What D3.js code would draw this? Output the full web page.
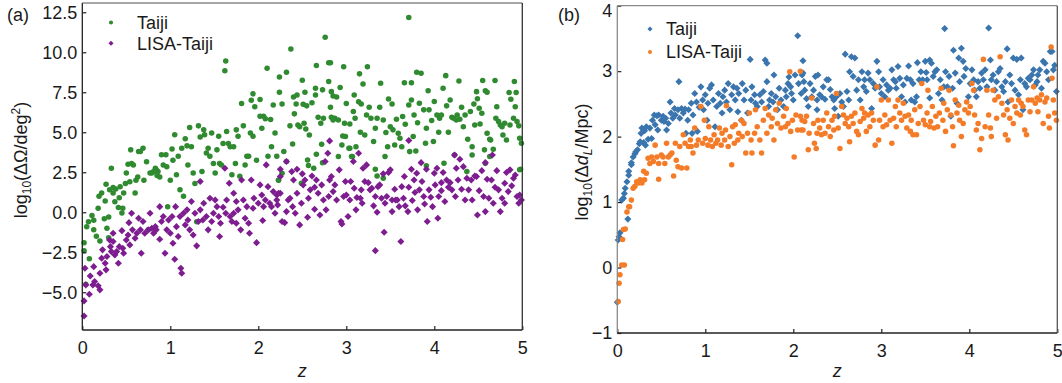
<!DOCTYPE html>
<html>
<head>
<meta charset="utf-8">
<script src="https://cdn.jsdelivr.net/npm/d3@7"></script>
<style>
html,body{margin:0;padding:0;background:#fff;}
svg{display:block;font-family:"Liberation Sans",Arial,sans-serif;}
</style>
</head>
<body>
<svg id="chart" width="1062" height="383"></svg>
<script>
// ---------- DATA ----------
const seriesNames = ["Taiji", "LISA-Taiji"];
const xTicks = [0, 1, 2, 3, 4, 5];
const yTicksA = [-5, -2.5, 0, 2.5, 5, 7.5, 10, 12.5];
const yTicksB = [-1, 0, 1, 2, 3, 4];

// panel (a): [z, log10(ΔΩ/deg²)]
const taijiOmega = [[0.02,-1.9],[0.02,-2.4],[0.04,-4.5],[0.08,-2.9],[0.05,-0.9],[0.07,-0.6],[0.11,-0.2],[0.13,-1.1],[0.13,-0.5],[0.18,0.25],[0.16,-1.5],[0.2,-1.8],[0.25,-0.4],[0.28,-1.0],[0.3,-0.3],[0.3,-1.6],[0.26,0.7],[0.19,1.0],[0.22,1.2],[0.27,1.75],[0.31,1.4],[0.33,2.75],[0.35,1.55],[0.38,1.45],[0.35,1.2],[0.37,0.65],[0.42,0.9],[0.41,0.3],[0.43,1.6],[0.45,-0.05],[0.46,0.25],[0.47,1.2],[0.49,1.8],[0.5,2.45],[0.52,3.0],[0.54,1.9],[0.56,3.05],[0.55,3.9],[0.58,2.95],[0.6,1.2],[0.61,2.0],[0.63,2.2],[0.64,3.8],[0.66,3.8],[0.69,4.0],[0.73,3.15],[0.7,2.0],[0.75,-1.1],[0.77,2.45],[0.79,2.45],[0.81,2.55],[0.83,2.75],[0.84,2.65],[0.86,2.55],[0.85,2.3],[0.88,2.2],[0.9,3.6],[0.92,2.95],[0.95,3.6],[0.96,2.85],[0.97,0.35],[1.0,2.0],[1.02,3.95],[1.03,3.25],[1.05,4.85],[1.07,2.35],[1.09,3.5],[1.11,1.4],[1.13,4.0],[1.15,1.0],[1.17,4.6],[1.19,4.15],[1.2,2.95],[1.22,5.3],[1.24,4.1],[1.26,2.45],[1.28,1.8],[1.3,-0.6],[1.32,5.4],[1.34,4.7],[1.36,2.55],[1.38,5.15],[1.39,4.85],[1.41,3.7],[1.43,4.0],[1.45,3.5],[1.47,4.95],[1.49,3.05],[1.51,2.45],[1.53,3.9],[1.55,4.75],[1.56,3.05],[1.58,2.95],[1.6,4.3],[1.64,5.05],[1.62,8.85],[1.63,9.45],[1.66,4.3],[1.68,4.1],[1.7,2.35],[1.72,4.1],[1.74,3.05],[1.75,5.15],[1.77,4.75],[1.79,2.25],[1.81,6.8],[1.83,5.4],[1.85,2.95],[1.87,3.5],[1.89,3.5],[1.91,4.95],[1.92,7.0],[1.94,7.4],[1.94,4.75],[1.96,6.6],[1.98,3.25],[2.02,7.05],[2.02,6.0],[2.04,5.25],[2.06,6.0],[2.08,5.85],[2.1,9.0],[2.11,3.5],[2.14,5.8],[2.15,4.1],[2.17,6.7],[2.19,4.95],[2.21,3.5],[2.23,2.0],[2.24,8.45],[2.24,7.5],[2.32,8.75],[2.37,10.2],[2.27,6.77],[2.4,7.2],[2.44,7.33],[2.5,8.25],[2.53,7.5],[2.41,6.15],[2.36,5.4],[2.43,6.77],[2.45,5.46],[2.47,5.35],[2.52,5.56],[2.54,5.2],[2.58,4.83],[2.51,6.75],[2.55,6.65],[2.61,6.85],[2.65,7.75],[2.66,9.17],[2.65,7.33],[2.68,5.94],[2.71,5.56],[2.73,7.65],[2.74,5.88],[2.76,10.94],[2.8,9.35],[2.82,9.35],[2.8,8.17],[2.83,7.54],[2.85,7.27],[2.87,5.88],[2.89,7.2],[2.93,7.8],[2.82,6.56],[2.83,5.94],[2.85,5.77],[2.91,5.77],[2.95,4.2],[2.97,9.1],[2.96,4.77],[2.98,5.56],[2.99,4.73],[3.0,6.8],[3.03,4.0],[3.04,5.52],[3.06,3.48],[3.08,6.3],[3.1,5.88],[3.09,7.33],[3.11,4.1],[3.14,6.9],[3.15,8.65],[3.16,5.0],[3.17,6.77],[3.19,8.02],[3.21,4.83],[3.23,6.08],[3.24,9.1],[3.26,6.56],[3.28,5.88],[3.31,4.42],[3.33,5.25],[3.35,5.88],[3.38,6.56],[3.39,8.06],[3.42,5.77],[3.44,3.48],[3.45,4.98],[3.47,4.1],[3.48,7.08],[3.5,5.35],[3.52,6.77],[3.53,5.15],[3.55,4.2],[3.57,5.81],[3.59,4.94],[3.61,4.63],[3.63,4.1],[3.64,5.98],[3.66,8.1],[3.67,5.5],[3.71,6.71],[3.71,12.17],[3.72,3.79],[3.74,8.1],[3.74,7.02],[3.76,4.73],[3.77,6.08],[3.79,3.83],[3.8,8.75],[3.81,5.6],[3.83,6.81],[3.85,8.69],[3.88,6.4],[3.9,4.31],[3.91,5.25],[3.93,7.6],[3.94,6.4],[3.97,5.73],[3.99,4.42],[4.0,6.92],[4.03,6.08],[4.05,5.0],[4.06,5.88],[4.08,6.08],[4.1,7.75],[4.11,3.06],[4.13,8.54],[4.14,6.65],[4.16,5.0],[4.18,7.02],[4.2,5.94],[4.22,5.88],[4.23,3.58],[4.25,5.77],[4.26,6.08],[4.28,8.2],[4.29,5.81],[4.31,6.56],[4.33,5.35],[4.35,6.08],[4.38,4.56],[4.41,6.3],[4.43,4.1],[4.45,6.77],[4.46,5.46],[4.48,7.54],[4.49,7.1],[4.51,6.5],[4.52,5.52],[4.54,6.19],[4.55,8.23],[4.57,3.9],[4.58,7.6],[4.6,7.5],[4.6,4.94],[4.63,4.56],[4.64,4.52],[4.67,3.94],[4.69,8.23],[4.7,5.88],[4.71,6.6],[4.73,5.67],[4.75,5.46],[4.77,5.35],[4.78,4.83],[4.8,5.56],[4.82,4.52],[4.85,7.48],[4.86,5.46],[4.87,7.06],[4.9,5.88],[4.91,8.17],[4.92,6.6],[4.93,7.48],[4.94,5.67],[4.96,5.4],[4.97,4.63],[4.98,2.69],[4.99,4.31],[2.29,3.8],[2.32,3.17],[2.39,4.27],[2.56,3.27],[2.57,2.92],[2.63,2.75],[2.66,3.63],[2.72,4.25],[2.73,3.1],[2.91,3.48],[3.04,4.0],[3.07,3.48],[3.33,2.69],[3.35,2.27],[3.42,2.13],[3.91,2.9],[4.37,2.54],[4.43,3.58],[4.58,3.06],[4.63,3.48],[2.27,2.44],[2.23,2.02],[2.49,1.81],[4.97,2.65]];

const lisaTaijiOmega = [[0.02,-6.48],[0.02,-5.54],[0.03,-3.5],[0.04,-4.54],[0.08,-5.13],[0.09,-3.98],[0.12,-4.54],[0.13,-3.4],[0.14,-4.33],[0.18,-4.6],[0.2,-4.85],[0.2,-3.81],[0.22,-2.88],[0.23,-2.35],[0.26,-3.19],[0.27,-3.6],[0.28,-2.77],[0.31,-1.73],[0.32,-2.15],[0.33,-2.46],[0.35,-1.31],[0.35,-1.83],[0.37,-2.67],[0.39,-2.46],[0.41,-3.19],[0.42,-2.15],[0.45,-1.15],[0.46,-2.25],[0.47,-2.56],[0.5,-1.73],[0.52,-1.42],[0.53,-0.65],[0.54,-2.04],[0.56,-0.06],[0.57,-1.1],[0.6,-1.63],[0.62,-1.31],[0.64,-0.38],[0.66,-1.1],[0.67,-2.56],[0.69,-0.58],[0.71,-1.31],[0.75,-1.1],[0.77,-0.06],[0.79,-1.0],[0.81,-1.31],[0.83,-0.9],[0.84,-1.1],[0.88,0.35],[0.88,-1.69],[0.9,-0.58],[0.92,-0.27],[0.94,-2.56],[0.96,-1.1],[0.98,-0.48],[1.0,-1.31],[1.02,-0.27],[1.03,-1.94],[1.05,-2.94],[1.06,0.35],[1.07,-0.9],[1.09,-1.52],[1.11,-0.27],[1.12,-3.5],[1.13,-3.81],[1.15,-0.06],[1.17,-0.79],[1.19,0.15],[1.2,-0.48],[1.22,-1.1],[1.24,0.67],[1.26,-1.42],[1.28,-0.06],[1.3,-2.1],[1.32,-0.58],[1.34,1.92],[1.34,0.15],[1.37,-0.48],[1.38,0.56],[1.41,-0.27],[1.43,-1.1],[1.45,0.88],[1.47,-0.58],[1.49,-0.06],[1.51,0.77],[1.53,0.35],[1.55,-0.27],[1.56,-1.52],[1.57,-0.69],[1.6,0.31],[1.62,2.75],[1.63,-0.06],[1.64,0.77],[1.67,1.81],[1.68,-0.27],[1.7,-0.58],[1.72,-0.06],[1.72,1.19],[1.75,0.67],[1.75,-0.69],[1.77,0.15],[1.8,-1.1],[1.81,2.02],[1.83,0.77],[1.85,-0.38],[1.87,0.35],[1.89,-0.69],[1.9,-1.31],[1.92,2.02],[1.94,0.25],[1.95,0.88],[1.98,-1.9],[2.0,0.56],[2.02,1.71],[2.04,1.08],[2.05,-0.52],[2.06,0.35],[2.08,0.77],[2.09,2.96],[2.11,1.6],[2.13,0.56],[2.15,0.35],[2.17,1.29],[2.19,-0.06],[2.21,0.77],[2.23,1.19],[2.22,0.46],[2.21,1.08],[2.25,1.19],[2.25,2.23],[2.25,2.69],[2.27,-0.58],[2.3,-0.65],[2.32,3.17],[2.32,0.04],[2.34,0.77],[2.36,0.87],[2.38,2.54],[2.39,0.35],[2.4,2.02],[2.42,-0.06],[2.44,2.69],[2.44,1.19],[2.47,-0.79],[2.49,0.56],[2.5,2.4],[2.51,1.71],[2.53,2.02],[2.56,-0.31],[2.57,0.87],[2.59,1.4],[2.61,2.27],[2.64,0.19],[2.64,1.56],[2.66,2.02],[2.68,1.19],[2.7,-0.17],[2.72,1.71],[2.74,0.77],[2.76,3.17],[2.77,0.15],[2.79,3.69],[2.8,0.98],[2.81,4.46],[2.81,2.02],[2.83,2.23],[2.85,1.29],[2.87,1.71],[2.89,0.77],[2.92,2.65],[2.94,-0.58],[2.95,-0.73],[2.97,0.98],[2.99,1.92],[3.0,1.08],[3.02,-0.27],[3.04,0.77],[3.05,1.92],[3.08,3.17],[3.09,1.5],[3.11,0.15],[3.12,0.92],[3.14,3.69],[3.16,0.87],[3.17,1.4],[3.18,0.56],[3.19,2.75],[3.21,1.92],[3.23,2.96],[3.25,1.85],[3.27,1.4],[3.29,1.5],[3.31,0.4],[3.33,-2.4],[3.33,0.98],[3.35,0.0],[3.36,1.6],[3.38,1.71],[3.4,0.87],[3.42,2.4],[3.43,-1.25],[3.44,0.56],[3.46,0.98],[3.48,2.48],[3.5,2.65],[3.52,0.77],[3.52,0.04],[3.55,1.44],[3.56,0.77],[3.58,0.77],[3.6,0.35],[3.62,-1.83],[3.63,1.6],[3.65,0.87],[3.66,2.23],[3.67,0.4],[3.7,0.04],[3.71,4.48],[3.71,1.56],[3.74,2.69],[3.75,0.73],[3.77,2.02],[3.78,1.23],[3.8,2.44],[3.81,0.15],[3.83,1.4],[3.85,3.1],[3.86,1.92],[3.88,0.98],[3.89,0.52],[3.91,2.69],[3.92,-0.58],[3.94,1.4],[3.96,0.94],[3.98,0.35],[4.0,2.44],[4.01,1.71],[4.03,2.75],[4.04,-0.38],[4.05,0.98],[4.08,1.85],[4.08,1.35],[4.1,2.48],[4.12,0.67],[4.14,2.02],[4.16,1.56],[4.18,1.85],[4.2,1.4],[4.23,3.58],[4.24,0.98],[4.25,2.75],[4.27,2.02],[4.29,3.31],[4.31,1.44],[4.33,2.85],[4.35,0.77],[4.37,2.12],[4.39,1.4],[4.42,2.02],[4.43,0.77],[4.46,2.27],[4.48,2.23],[4.49,-0.17],[4.51,1.35],[4.54,2.6],[4.56,0.98],[4.58,3.1],[4.58,0.04],[4.6,2.06],[4.62,0.87],[4.65,2.02],[4.66,3.58],[4.67,0.56],[4.69,1.56],[4.71,2.6],[4.73,1.4],[4.75,0.04],[4.77,0.87],[4.8,0.56],[4.8,1.81],[4.82,2.48],[4.84,1.29],[4.86,2.65],[4.88,1.65],[4.9,2.12],[4.92,2.33],[4.94,0.98],[4.96,0.56],[4.97,1.08],[4.99,0.77]];

// panel (b): [z, log10(Δd_L/Mpc)]
const taijiDL = [[0.0,-0.53],[0.01,0.42],[0.02,0.47],[0.03,0.53],[0.12,0.74],[0.05,1.03],[0.07,1.06],[0.08,1.13],[0.09,1.21],[0.11,1.31],[0.13,1.41],[0.13,1.47],[0.16,1.57],[0.16,1.6],[0.18,1.69],[0.2,1.74],[0.21,1.77],[0.23,1.8],[0.25,1.89],[0.26,1.92],[0.27,2.05],[0.28,2.13],[0.3,1.91],[0.31,2.09],[0.32,1.87],[0.33,2.15],[0.35,1.96],[0.37,2.13],[0.39,1.97],[0.4,2.25],[0.42,2.33],[0.43,2.18],[0.45,2.32],[0.46,2.1],[0.47,2.33],[0.5,2.25],[0.52,2.31],[0.53,2.23],[0.55,2.28],[0.56,2.1],[0.58,2.2],[0.6,2.53],[0.61,2.36],[0.63,2.28],[0.65,2.43],[0.66,2.33],[0.69,2.41],[0.7,2.84],[0.71,2.28],[0.73,2.43],[0.75,2.36],[0.77,2.42],[0.78,2.05],[0.8,2.25],[0.81,2.41],[0.84,2.51],[0.85,2.05],[0.86,2.33],[0.88,2.66],[0.9,2.53],[0.91,2.08],[0.93,2.45],[0.95,2.76],[0.97,2.56],[0.98,2.41],[1.0,2.64],[1.02,2.25],[1.03,2.51],[1.05,2.74],[1.07,2.79],[1.09,2.56],[1.11,2.15],[1.13,2.46],[1.15,2.66],[1.17,2.51],[1.19,2.36],[1.2,2.61],[1.22,2.71],[1.24,2.53],[1.26,2.81],[1.28,2.41],[1.3,2.64],[1.32,2.76],[1.34,2.56],[1.36,2.74],[1.37,2.38],[1.38,2.66],[1.41,2.25],[1.42,2.81],[1.44,2.56],[1.46,2.71],[1.48,2.36],[1.51,3.18],[1.52,2.56],[1.53,2.76],[1.56,2.64],[1.57,2.51],[1.59,2.46],[1.62,2.64],[1.64,2.53],[1.66,2.69],[1.68,3.17],[1.7,3.12],[1.7,2.84],[1.72,2.46],[1.73,2.56],[1.75,2.66],[1.77,2.53],[1.78,2.94],[1.8,2.61],[1.82,2.41],[1.84,2.74],[1.86,2.56],[1.89,2.46],[1.91,2.71],[1.92,2.61],[1.94,2.81],[1.95,2.91],[1.97,2.76],[1.98,2.66],[2.0,2.56],[2.02,2.94],[2.05,3.54],[2.06,2.81],[2.09,2.66],[2.11,3.16],[2.11,2.97],[2.1,2.94],[2.12,2.84],[2.13,2.71],[2.15,2.58],[2.17,2.46],[2.19,2.81],[2.21,2.61],[2.23,2.71],[2.25,2.92],[2.27,2.41],[2.27,2.56],[2.28,2.94],[2.3,2.64],[2.32,2.61],[2.34,2.76],[2.36,2.57],[2.38,2.87],[2.4,2.87],[2.42,2.72],[2.44,2.61],[2.46,2.56],[2.47,2.43],[2.49,2.61],[2.51,2.31],[2.53,2.66],[2.55,2.53],[2.57,2.46],[2.59,3.26],[2.61,2.69],[2.63,2.56],[2.64,2.99],[2.66,3.22],[2.68,2.92],[2.7,3.2],[2.72,2.71],[2.74,2.87],[2.76,2.56],[2.78,2.99],[2.8,2.76],[2.81,2.87],[2.83,2.69],[2.85,2.97],[2.87,2.87],[2.89,2.43],[2.91,2.81],[2.93,2.74],[2.95,3.15],[2.97,2.99],[2.98,2.76],[3.0,2.66],[3.02,2.87],[3.04,2.61],[3.06,2.79],[3.08,2.71],[3.1,2.74],[3.12,3.02],[3.14,2.87],[3.16,2.84],[3.17,2.74],[3.19,3.07],[3.21,2.89],[3.23,2.61],[3.25,2.79],[3.27,2.53],[3.29,2.89],[3.31,3.08],[3.33,2.87],[3.34,2.56],[3.36,2.81],[3.38,2.53],[3.4,2.61],[3.41,3.13],[3.43,2.87],[3.45,2.99],[3.47,2.87],[3.5,3.15],[3.51,2.98],[3.52,2.87],[3.55,2.59],[3.55,3.17],[3.57,3.12],[3.59,2.92],[3.61,2.99],[3.63,3.02],[3.65,2.66],[3.67,2.87],[3.69,2.56],[3.71,2.76],[3.72,3.65],[3.73,2.99],[3.75,2.76],[3.77,2.92],[3.79,2.31],[3.81,2.74],[3.82,3.32],[3.84,2.97],[3.86,2.51],[3.88,3.2],[3.89,2.84],[3.91,3.35],[3.93,3.15],[3.94,2.92],[3.96,3.04],[3.99,2.61],[4.01,2.81],[4.03,3.02],[4.05,2.87],[4.06,2.71],[4.08,2.61],[4.1,2.84],[4.12,2.74],[4.14,2.97],[4.16,2.87],[4.18,3.02],[4.2,2.76],[4.22,3.66],[4.24,3.17],[4.25,2.87],[4.27,2.94],[4.29,2.71],[4.31,2.84],[4.33,2.99],[4.35,3.04],[4.37,2.76],[4.39,2.69],[4.41,2.84],[4.43,3.34],[4.44,2.53],[4.46,2.94],[4.48,2.81],[4.5,3.2],[4.52,2.71],[4.54,3.18],[4.56,2.64],[4.58,2.87],[4.59,3.2],[4.61,2.41],[4.63,2.81],[4.65,2.76],[4.67,2.89],[4.69,2.87],[4.71,2.94],[4.73,3.02],[4.75,2.79],[4.77,2.84],[4.78,2.94],[4.8,3.02],[4.82,2.74],[4.84,3.15],[4.86,3.12],[4.88,2.99],[4.9,2.87],[4.92,3.3],[4.94,3.3],[4.955,3.02],[4.97,3.09],[4.99,2.69]];

const lisaTaijiDL = [[0.01,-0.52],[0.02,-0.24],[0.03,-0.11],[0.05,0.04],[0.08,0.04],[0.06,0.43],[0.07,0.58],[0.09,0.59],[0.11,0.85],[0.13,0.93],[0.14,0.93],[0.16,1.03],[0.18,1.21],[0.2,1.24],[0.22,1.31],[0.24,1.29],[0.26,1.34],[0.28,1.29],[0.3,1.47],[0.31,1.34],[0.33,1.44],[0.35,1.67],[0.37,1.59],[0.39,1.69],[0.41,1.62],[0.43,1.87],[0.45,1.69],[0.47,1.59],[0.47,1.35],[0.5,1.72],[0.52,1.69],[0.54,1.59],[0.56,1.9],[0.58,1.69],[0.6,1.72],[0.62,1.75],[0.64,1.4],[0.66,1.9],[0.67,1.64],[0.69,1.54],[0.71,1.85],[0.73,1.52],[0.75,2.03],[0.77,1.9],[0.79,1.52],[0.81,1.85],[0.83,1.95],[0.84,1.85],[0.86,1.75],[0.88,2.13],[0.9,1.87],[0.92,1.95],[0.95,2.46],[0.97,1.9],[0.99,2.25],[1.0,1.97],[1.03,1.87],[1.04,2.15],[1.06,1.95],[1.08,1.85],[1.1,2.03],[1.12,1.9],[1.14,1.95],[1.16,2.13],[1.18,1.87],[1.19,2.05],[1.22,1.95],[1.23,2.1],[1.24,2.47],[1.26,1.85],[1.28,2.0],[1.3,1.57],[1.31,2.15],[1.33,1.9],[1.34,2.18],[1.37,1.95],[1.38,2.05],[1.41,2.25],[1.42,2.0],[1.44,2.2],[1.46,1.75],[1.48,2.05],[1.5,2.36],[1.52,1.95],[1.53,1.75],[1.56,2.05],[1.57,2.41],[1.59,2.15],[1.62,1.95],[1.64,1.75],[1.66,2.25],[1.68,2.43],[1.7,2.05],[1.72,2.33],[1.75,2.15],[1.76,2.28],[1.78,1.95],[1.8,2.41],[1.82,2.2],[1.84,2.51],[1.86,2.13],[1.89,2.31],[1.91,2.15],[1.92,2.43],[1.94,2.2],[1.96,2.99],[1.97,2.08],[1.99,2.25],[2.01,1.69],[2.03,2.33],[2.05,2.1],[2.08,2.31],[2.09,2.1],[2.08,3.0],[2.1,2.25],[2.11,2.1],[2.13,2.23],[2.15,2.31],[2.17,1.8],[2.18,2.05],[2.21,2.59],[2.23,2.2],[2.24,1.9],[2.26,1.82],[2.27,2.05],[2.28,2.25],[2.3,2.13],[2.32,2.03],[2.34,2.25],[2.36,2.05],[2.38,2.36],[2.4,2.15],[2.42,2.0],[2.44,2.25],[2.46,2.1],[2.47,2.31],[2.49,2.66],[2.51,2.13],[2.53,1.82],[2.55,2.46],[2.57,2.33],[2.59,2.2],[2.61,2.28],[2.63,2.15],[2.64,1.92],[2.66,2.31],[2.68,2.2],[2.7,2.36],[2.72,2.08],[2.74,2.03],[2.76,2.23],[2.78,2.43],[2.8,2.28],[2.81,2.36],[2.83,2.08],[2.85,2.33],[2.87,2.15],[2.89,2.36],[2.91,2.25],[2.93,1.87],[2.95,2.76],[2.97,1.95],[2.98,2.25],[3.0,2.56],[3.02,2.15],[3.04,2.33],[3.06,2.18],[3.08,2.56],[3.1,2.25],[3.12,1.9],[3.14,2.28],[3.16,2.46],[3.17,2.15],[3.19,2.56],[3.21,2.36],[3.23,2.25],[3.25,2.51],[3.27,2.31],[3.29,2.13],[3.31,2.33],[3.33,2.08],[3.34,2.25],[3.36,2.03],[3.38,2.41],[3.4,2.03],[3.42,2.2],[3.44,2.46],[3.46,2.81],[3.48,2.25],[3.5,2.18],[3.52,2.36],[3.53,2.71],[3.55,2.15],[3.56,2.23],[3.58,2.46],[3.6,2.13],[3.62,2.31],[3.64,2.15],[3.66,2.36],[3.68,2.74],[3.7,2.25],[3.71,2.51],[3.73,2.08],[3.75,2.41],[3.77,2.71],[3.79,2.33],[3.81,2.15],[3.82,1.86],[3.84,2.56],[3.86,2.36],[3.88,2.48],[3.89,2.25],[3.91,2.0],[3.93,2.2],[3.95,2.41],[3.97,2.53],[3.99,2.36],[4.01,2.46],[4.03,2.81],[4.05,2.71],[4.06,2.33],[4.08,2.1],[4.1,2.2],[4.12,1.8],[4.14,1.97],[4.16,3.18],[4.18,2.15],[4.2,2.71],[4.22,2.33],[4.24,2.13],[4.25,2.0],[4.27,2.71],[4.29,2.56],[4.31,2.28],[4.33,2.61],[4.35,3.22],[4.37,2.51],[4.39,2.33],[4.41,2.03],[4.43,2.41],[4.44,1.95],[4.46,2.28],[4.48,2.56],[4.5,2.2],[4.52,2.46],[4.54,2.36],[4.56,2.56],[4.58,2.33],[4.59,2.51],[4.61,2.46],[4.63,2.1],[4.65,2.03],[4.67,2.56],[4.69,2.38],[4.71,2.56],[4.73,2.76],[4.75,2.51],[4.77,2.59],[4.78,2.38],[4.8,2.56],[4.82,2.64],[4.84,2.2],[4.86,2.53],[4.88,2.59],[4.9,2.31],[4.91,2.13],[4.93,3.37],[4.94,2.89],[4.955,2.56],[4.97,2.36],[4.99,2.25]];

// ---------- DRAW ----------
const svg = d3.select("#chart");
const FONT = 18;
const fmtA = d3.format(".1f");
const fmtB = d3.format("d");

const diamond = {
  draw(ctx, size) {
    const r = Math.sqrt(size / 2);
    ctx.moveTo(0, -r); ctx.lineTo(r, 0); ctx.lineTo(0, r); ctx.lineTo(-r, 0); ctx.closePath();
  }
};

const panels = [
  {
    tag: "(a)", tagX: 7, tagY: 21,
    x0: 82.3, x1: 522.3, yTop: 3, yBot: 330, ydom: [-7.36, 13.08],
    yTicks: yTicksA, fmt: fmtA,
    leftSpine: "#222", topSpine: "#8a8a8a", rightSpine: "#333", bottomSpine: "#222",
    series: [
      {name: seriesNames[0], data: taijiOmega, color: "#2f8a30", shape: d3.symbolCircle, size: 24, legSize: 13},
      {name: seriesNames[1], data: lisaTaijiOmega, color: "#7d1d8f", shape: diamond, size: 25, legSize: 13}
    ],
    legX: 111, legY: [22.5, 43.3], legTextX: 137,
    ylabX: 27, ylabY: 160, ylab: "omega"
  },
  {
    tag: "(b)", tagX: 558, tagY: 21,
    x0: 617.3, x1: 1057.3, yTop: 5.7, yBot: 333, ydom: [-1, 4],
    yTicks: yTicksB, fmt: fmtB,
    leftSpine: "#8a8a8a", topSpine: "#8a8a8a", rightSpine: "#555", bottomSpine: "#222",
    series: [
      {name: seriesNames[0], data: taijiDL, color: "#3a75ae", shape: diamond, size: 25, legSize: 13},
      {name: seriesNames[1], data: lisaTaijiDL, color: "#f47c28", shape: d3.symbolCircle, size: 24, legSize: 13}
    ],
    legX: 650, legY: [29, 52], legTextX: 666,
    ylabX: 588, ylabY: 162, ylab: "dl"
  }
];

panels.forEach(p => {
  const x = d3.scaleLinear().domain([0, 5]).range([p.x0, p.x1]);
  const y = d3.scaleLinear().domain(p.ydom).range([p.yBot, p.yTop]);
  const g = svg.append("g");

  // points
  p.series.forEach(s => {
    const sym = d3.symbol().type(s.shape).size(s.size);
    g.append("g").selectAll("path").data(s.data).join("path")
      .attr("d", sym)
      .attr("transform", d => `translate(${x(d[0])},${y(d[1])})`)
      .attr("fill", s.color);
  });

  // axes
  const xAxis = d3.axisBottom(x).tickValues(xTicks).tickSizeInner(-4).tickSizeOuter(0).tickPadding(11).tickFormat(d3.format("d"));
  const yAxis = d3.axisLeft(y).tickValues(p.yTicks).tickSizeInner(-4).tickSizeOuter(0).tickPadding(5).tickFormat(p.fmt);
  const gx = g.append("g").attr("transform", `translate(0,${p.yBot})`).call(xAxis);
  const gy = g.append("g").attr("transform", `translate(${p.x0},0)`).call(yAxis);
  [gx, gy].forEach(a => {
    a.select(".domain").remove();
    a.selectAll("line").attr("stroke", "#222").attr("stroke-width", 1.2);
    a.selectAll("text").attr("font-size", FONT).attr("fill", "#1a1a1a")
      .attr("font-family", '"Liberation Sans", Arial, sans-serif');
  });
  // keep the top tick label inside the picture
  gy.selectAll(".tick text").filter(d => y(d) < 8).attr("dy", "0.62em");

  // spines
  const sp = (x1, y1, x2, y2, c) => g.append("line").attr("x1", x1).attr("y1", y1).attr("x2", x2).attr("y2", y2)
    .attr("stroke", c).attr("stroke-width", 1.3);
  sp(p.x0, p.yTop, p.x1, p.yTop, p.topSpine);
  sp(p.x1, p.yTop, p.x1, p.yBot, p.rightSpine);
  sp(p.x0, p.yTop, p.x0, p.yBot, p.leftSpine);
  sp(p.x0, p.yBot, p.x1, p.yBot, p.bottomSpine);

  // x label
  g.append("text").attr("x", (p.x0 + p.x1) / 2).attr("y", 377).attr("text-anchor", "middle")
    .attr("font-size", FONT).attr("font-style", "italic").attr("fill", "#1a1a1a").text("z");

  // panel tag
  g.append("text").attr("x", p.tagX).attr("y", p.tagY).attr("font-size", FONT).attr("fill", "#1a1a1a").text(p.tag);

  // legend
  p.series.forEach((s, i) => {
    g.append("path").attr("d", d3.symbol().type(s.shape).size(s.legSize)())
      .attr("transform", `translate(${p.legX},${p.legY[i]})`).attr("fill", s.color);
    g.append("text").attr("x", p.legTextX).attr("y", p.legY[i]).attr("dy", "0.35em")
      .attr("font-size", FONT).attr("fill", "#1a1a1a").text(s.name);
  });

  // y label
  const yl = g.append("text").attr("transform", `translate(${p.ylabX},${p.ylabY}) rotate(-90)`)
    .attr("text-anchor", "middle").attr("font-size", FONT).attr("fill", "#1a1a1a");
  if (p.ylab === "omega") {
    yl.append("tspan").text("log");
    yl.append("tspan").attr("font-size", 12).attr("dy", 4).text("10");
    yl.append("tspan").attr("dy", -4).text("(ΔΩ/deg");
    yl.append("tspan").attr("font-size", 12).attr("dy", -7).text("2");
    yl.append("tspan").attr("dy", 7).text(")");
  } else {
    yl.append("tspan").text("log");
    yl.append("tspan").attr("font-size", 12).attr("dy", 4).text("10");
    yl.append("tspan").attr("dy", -4).text("(Δ");
    yl.append("tspan").attr("font-style", "italic").text("d");
    yl.append("tspan").attr("font-size", 12).attr("font-style", "italic").attr("dy", 4).text("L");
    yl.append("tspan").attr("dy", -4).text("/Mpc)");
  }
});
</script>
</body>
</html>
